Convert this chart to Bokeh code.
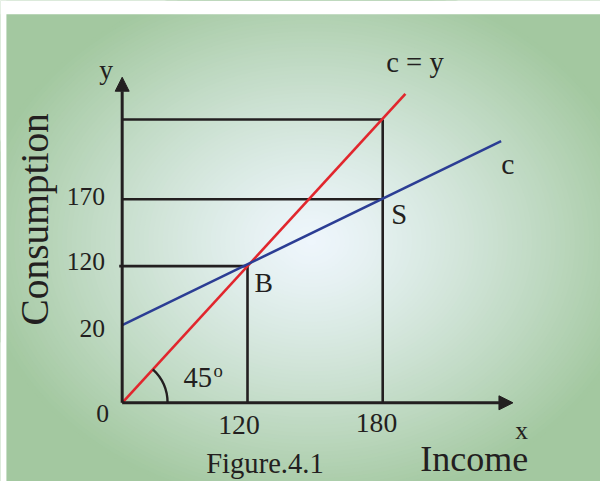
import numpy as np
from bokeh.plotting import figure
from bokeh.models import Range1d, Arrow, NormalHead, ColumnDataSource
from bokeh.core.properties import value
from bokeh.embed import file_html
from bokeh.resources import INLINE

# ---------------- data (schematic diagram, drawing units; labels as printed) ----------------
x_ticks = [127, 264]                 # income positions of B and S
x_tick_labels = ["120", "180"]
y_ticks = [79, 139, 207]             # consumption positions: intercept, B, S
y_tick_labels = ["20", "120", "170"]
y_top = 288                          # c = y at income 180
line45_x = [0, 287]                  # c = y line
line45_y = [0, 314]
cons_x = [0, 384]                    # consumption function c
cons_y = [79, 266]
x_axis_end = 396
y_axis_end = 331

INK = "#231f20"
RED = "#e1262d"
BLUE = "#2b3d94"
FONT = value("Liberation Serif")
K = 0.30   # baseline correction (fraction of font size)

X0, X1, Y0, Y1 = -123.3, 484.7, -80.0, 409.0
p = figure(width=600, height=481,
           x_range=Range1d(X0, X1), y_range=Range1d(Y0, Y1),
           x_axis_type=None, y_axis_type=None,
           min_border=0, toolbar_location=None, output_backend="svg")
p.outline_line_color = None
p.border_fill_color = "white"
p.background_fill_color = "#a3c8a0"

# ---------------- radial background gradient ----------------
light = np.array([238, 246, 252])
green = np.array([163, 200, 160])
N = 70
ts = np.linspace(1.0, 1.0 / N, N)
cols = []
for t in ts:
    f = min(1.0, t ** 1.25)
    c = (light + (green - light) * f).round().astype(int)
    cols.append("#%02x%02x%02x" % tuple(c))
p.ellipse(x=[191.7] * N, y=[164] * N, width=list(2 * 340 * ts), height=list(2 * 272 * ts),
          fill_color=cols, line_color=None)
# white margins of the coloured panel
p.quad(left=[X0, X0], right=[X1, X0 + 6], bottom=[395, Y0], top=[Y1, Y1],
       fill_color="white", line_color=None)

# ---------------- guide lines ----------------
gx0 = [-3, x_ticks[0], 0, 0, x_ticks[1]]
gx1 = [x_ticks[0], x_ticks[0], x_ticks[1], x_ticks[1], x_ticks[1]]
gy0 = [y_ticks[1], 0, y_ticks[2], y_top, 0]
gy1 = [y_ticks[1], y_ticks[1], y_ticks[2], y_top, y_top]
p.segment(x0=gx0, y0=gy0, x1=gx1, y1=gy1, line_color=INK, line_width=2.6)

# ---------------- curves ----------------
p.line(line45_x, line45_y, line_color=RED, line_width=2.6)
p.line(cons_x, cons_y, line_color=BLUE, line_width=2.6)

# 45 degree arc
ang = float(np.arctan2(line45_y[1], line45_x[1]))
p.arc(x=[0], y=[0], radius=46, start_angle=0, end_angle=ang, line_color=INK, line_width=2.4)

# ---------------- axes (arrows) ----------------
for xe, ye in [(x_axis_end, 0), (0, y_axis_end)]:
    p.add_layout(Arrow(end=NormalHead(size=14, fill_color=INK, line_color=INK, line_width=1),
                       x_start=0, y_start=0, x_end=xe, y_end=ye,
                       line_color=INK, line_width=3))

# ---------------- tick labels ----------------
def fs(px):
    return "%.1fpx" % px

xt = ColumnDataSource(dict(x=[x_ticks[0] - 8.6, x_ticks[1] - 6.3], y=[-31.0, -29.3],
                           text=x_tick_labels))
p.text(x="x", y="y", text="text", y_offset=-K * 27.6, source=xt,
       text_align="center", text_baseline="alphabetic", text_font=FONT,
       text_font_size=fs(27.6), text_color=INK)
yt = ColumnDataSource(dict(x=[-17.3] * 3,
                           y=[y_ticks[0] - 11.7, y_ticks[1] - 2.7, y_ticks[2] - 5.3],
                           text=y_tick_labels))
p.text(x="x", y="y", text="text", y_offset=-K * 25.6, source=yt,
       text_align="right", text_baseline="alphabetic", text_font=FONT,
       text_font_size=fs(25.6), text_color=INK)

# ---------------- annotations ----------------
def label(x, y, s, size, align="center", angle=0.0):
    if angle:
        xo, yo = -K * size, 0.0
    else:
        xo, yo = 0.0, -K * size
    p.text(x=[x], y=[y], text=[s], angle=angle, x_offset=xo, y_offset=yo,
           text_align=align, text_baseline="alphabetic",
           text_font=FONT, text_font_size=fs(size), text_color=INK)

label(-19.8, -18.3, "0", 25.6)
label(-76.6, 186.5, "Consumption", 39.4, angle=np.pi / 2)
label(356.7, -68.5, "Income", 36.0)
label(144.7, -70.5, "Figure.4.1", 28.6)
label(404.7, -36, "x", 25.6)
label(-16.3, 330, "y", 27.6)
label(296.7, 337.3, "c = y", 28.6)
label(390.7, 234, "c", 29.6)
label(x_ticks[1] + 16.7, 182.3, "S", 28.6)
label(x_ticks[0] + 16.4, 114, "B", 27.6)
label(76.7, 17.3, "45", 28.6)
label(97.2, 27, "o", 18.7)

open("out.html", "w").write(file_html(p, INLINE))
